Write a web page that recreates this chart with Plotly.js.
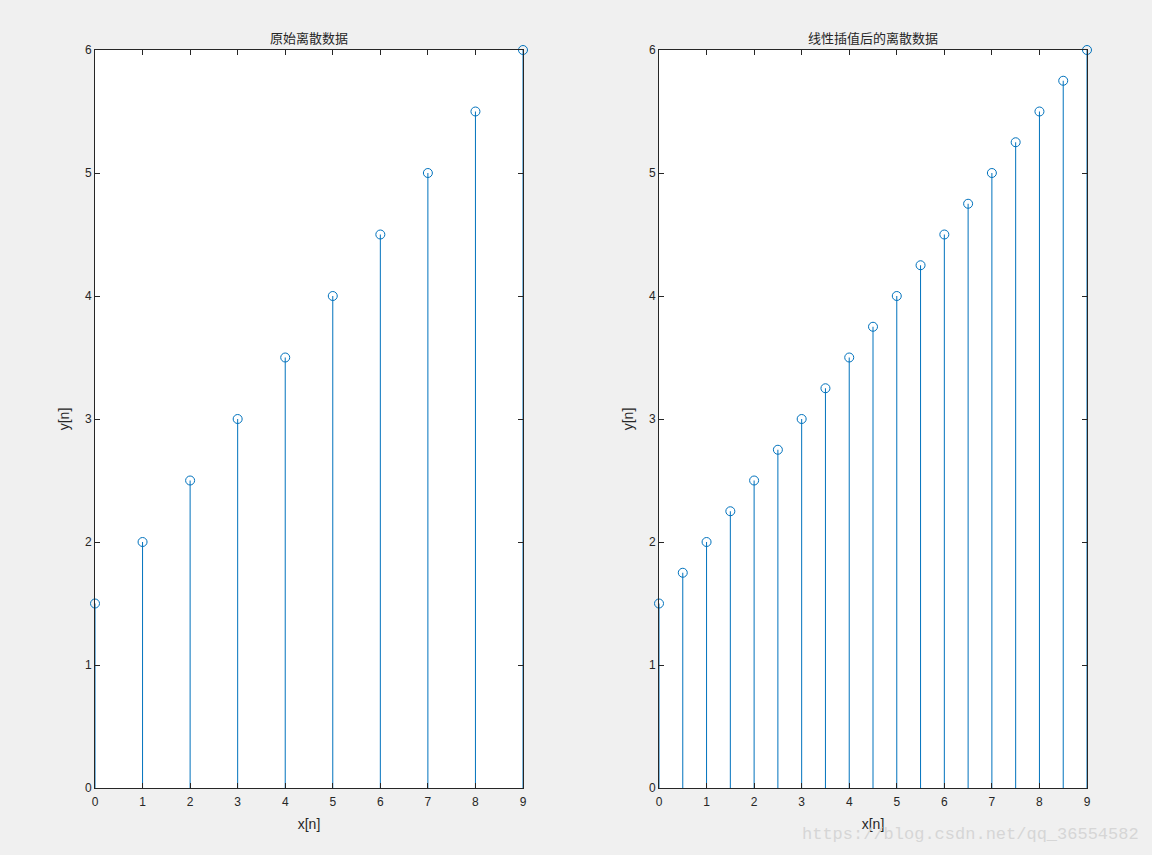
<!DOCTYPE html>
<html>
<head>
<meta charset="utf-8">
<script src="https://cdn.plot.ly/plotly-3.0.1.min.js"></script>
<style>html,body{margin:0;padding:0;background:#f0f0f0;}#chart{width:1152px;height:855px;}</style>
</head>
<body>
<div id="chart"></div>
<script>
// Original discrete data
const xOrig = [0, 1, 2, 3, 4, 5, 6, 7, 8, 9];
const yOrig = [1.5, 2, 2.5, 3, 3.5, 4, 4.5, 5, 5.5, 6];
// Linearly interpolated discrete data
const xInterp = [0, 0.5, 1, 1.5, 2, 2.5, 3, 3.5, 4, 4.5, 5, 5.5, 6, 6.5, 7, 7.5, 8, 8.5, 9];
const yInterp = [1.5, 1.75, 2, 2.25, 2.5, 2.75, 3, 3.25, 3.5, 3.75, 4, 4.25, 4.5, 4.75, 5, 5.25, 5.5, 5.75, 6];
const xTicks = [0, 1, 2, 3, 4, 5, 6, 7, 8, 9];
const yTicks = [0, 1, 2, 3, 4, 5, 6];
const titleLeft = '原始离散数据';
const titleRight = '线性插值后的离散数据';
const xLabel = 'x[n]';
const yLabel = 'y[n]';

const blue = '#0072BD';
function stemTrace(x, y, xa, ya) {
  return {
    x: x, y: y, xaxis: xa, yaxis: ya, type: 'scatter', mode: 'markers',
    marker: {symbol: 'circle-open', size: 9, color: blue, line: {width: 1, color: blue}},
    error_y: {type: 'data', symmetric: false, array: y.map(() => 0), arrayminus: y,
              width: 0, thickness: 1, color: blue},
    cliponaxis: false, hoverinfo: 'x+y'
  };
}

const axisCommon = {
  showgrid: false, zeroline: false, showline: true, mirror: 'ticks',
  linecolor: '#262626', linewidth: 1, ticks: 'inside', ticklen: 5, tickcolor: '#262626',
  tickfont: {family: 'Liberation Sans, Arial, sans-serif', size: 12, color: '#262626'},
  fixedrange: true
};
const xBase = Object.assign({}, axisCommon, {range: [0, 9], tickvals: xTicks, ticktext: xTicks.map(String),
  ticklabelstandoff: 3,
  title: {text: xLabel, font: {family: 'Liberation Sans, Arial, sans-serif', size: 14, color: '#262626'}, standoff: 10}});
const yBase = Object.assign({}, axisCommon, {range: [0, 6], tickvals: yTicks, ticktext: yTicks.map(String),
  title: {text: yLabel, font: {family: 'Liberation Sans, Arial, sans-serif', size: 14, color: '#262626'}, standoff: 12}});

const layout = {
  width: 1152, height: 855,
  paper_bgcolor: '#f0f0f0', plot_bgcolor: '#ffffff',
  margin: {l: 0, r: 0, t: 0, b: 0},
  showlegend: false,
  xaxis: Object.assign({}, xBase, {domain: [95/1152, 523/1152], anchor: 'y'}),
  yaxis: Object.assign({}, yBase, {domain: [67/855, 805/855], anchor: 'x'}),
  xaxis2: Object.assign({}, xBase, {domain: [659/1152, 1087/1152], anchor: 'y2'}),
  yaxis2: Object.assign({}, yBase, {domain: [67/855, 805/855], anchor: 'x2'}),
  annotations: [
    {text: titleLeft, xref: 'paper', yref: 'paper', x: 309/1152, y: (855-38)/855, xanchor: 'center', yanchor: 'middle',
     showarrow: false, font: {family: 'Noto Sans CJK SC', size: 13, color: '#262626'}},
    {text: titleRight, xref: 'paper', yref: 'paper', x: 873/1152, y: (855-38)/855, xanchor: 'center', yanchor: 'middle',
     showarrow: false, font: {family: 'Noto Sans CJK SC', size: 13, color: '#262626'}},
    {text: 'https://blog.csdn.net/qq_36554582', xref: 'paper', yref: 'paper', x: 1141/1152, y: (855-834)/855,
     xanchor: 'right', yanchor: 'middle', showarrow: false,
     font: {family: 'Liberation Mono, DejaVu Sans Mono, monospace', size: 17, color: '#d6d6d6'}}
  ]
};

Plotly.newPlot('chart', [stemTrace(xOrig, yOrig, 'x', 'y'), stemTrace(xInterp, yInterp, 'x2', 'y2')], layout,
  {displayModeBar: false, staticPlot: true});
</script>
</body>
</html>
